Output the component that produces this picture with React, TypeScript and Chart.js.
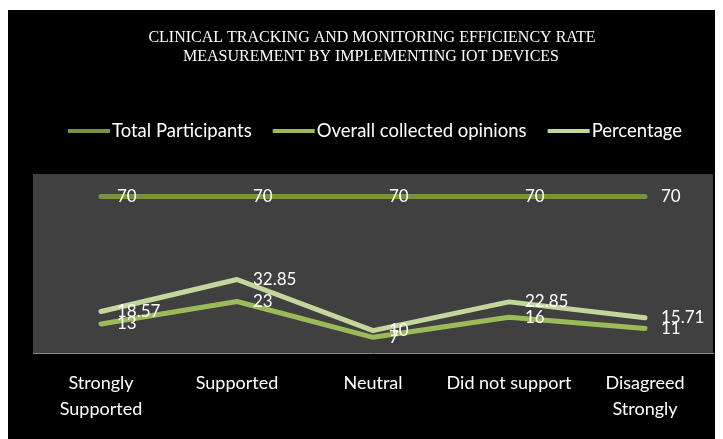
import React, { useEffect, useRef } from "react";
import { Chart, registerables } from "chart.js";

Chart.register(...registerables);

const titleLines = [
  "CLINICAL TRACKING AND MONITORING EFFICIENCY RATE",
  "MEASUREMENT BY IMPLEMENTING IOT DEVICES",
];
const categories: (string | string[])[] = [
  ["Strongly", "Supported"],
  "Supported",
  "Neutral",
  "Did not support",
  ["Disagreed", "Strongly"],
];
const seriesNames = ["Total Participants", "Overall collected opinions", "Percentage"];
const totalParticipants = [70, 70, 70, 70, 70];
const overallOpinions = [13, 23, 7, 16, 11];
const percentage = [18.57, 32.85, 10, 22.85, 15.71];
const seriesColors = ["#77933C", "#9BBB59", "#C3D69B"];

const SANS = "Lato, 'Open Sans', sans-serif";

const bgPlugin = {
  id: "bg",
  beforeDraw(chart: any) {
    const { ctx, width, height, chartArea } = chart;
    ctx.save();
    ctx.fillStyle = "#000000";
    ctx.fillRect(0, 0, width, height);
    ctx.fillStyle = "#404040";
    ctx.fillRect(chartArea.left, chartArea.top, chartArea.right - chartArea.left, chartArea.bottom - chartArea.top);
    ctx.restore();
  },
};

const headerPlugin = {
  id: "header",
  afterDraw(chart: any) {
    const { ctx } = chart;
    ctx.save();
    // title
    ctx.fillStyle = "#ffffff";
    ctx.font = "16px 'Liberation Serif', serif";
    ctx.textAlign = "center";
    ctx.textBaseline = "middle";
    ctx.fillText(titleLines[0], 364, 28);
    ctx.fillText(titleLines[1], 363, 47);
    // legend
    ctx.font = `18.5px ${SANS}`;
    ctx.textAlign = "left";
    let x = 60;
    const y = 121;
    seriesNames.forEach((name, i) => {
      ctx.strokeStyle = seriesColors[i];
      ctx.lineWidth = 4;
      ctx.beginPath();
      ctx.moveTo(x, y);
      ctx.lineTo(x + 42, y);
      ctx.stroke();
      x += 44;
      ctx.fillStyle = "#ffffff";
      ctx.fillText(name, x, y);
      x += ctx.measureText(name).width + 21;
    });
    ctx.restore();
  },
};

const labelPlugin = {
  id: "pointLabels",
  afterDatasetsDraw(chart: any) {
    const { ctx } = chart;
    ctx.save();
    ctx.fillStyle = "#ffffff";
    ctx.font = `17px ${SANS}`;
    ctx.textAlign = "left";
    ctx.textBaseline = "middle";
    chart.data.datasets.forEach((ds: any, i: number) => {
      const meta = chart.getDatasetMeta(i);
      meta.data.forEach((pt: any, j: number) => {
        ctx.fillText(String(ds.data[j]), pt.x + 16, pt.y);
      });
    });
    ctx.restore();
  },
};

export default function App() {
  const ref = useRef<HTMLCanvasElement | null>(null);
  useEffect(() => {
    if (!ref.current) return;
    const data = [totalParticipants, overallOpinions, percentage];
    const chart = new Chart(ref.current, {
      type: "line",
      data: {
        labels: categories,
        datasets: seriesNames.map((name, i) => ({
          label: name,
          data: data[i],
          borderColor: seriesColors[i],
          backgroundColor: seriesColors[i],
          borderWidth: 5,
          pointRadius: 0,
          borderCapStyle: "round" as const,
          borderJoinStyle: "round" as const,
          tension: 0,
        })),
      },
      options: {
        animation: false,
        responsive: false,
        devicePixelRatio: 1,
        layout: { padding: { top: 164, left: 25, right: 10, bottom: 0 } },
        plugins: {
          legend: { display: false },
          title: { display: false },
          tooltip: { enabled: false },
        },
        scales: {
          x: {
            offset: true,
            grid: { display: false, drawTicks: false },
            border: { display: true, color: "#8a8a8a", width: 1 },
            ticks: {
              color: "#ffffff",
              font: { family: SANS, size: 18, lineHeight: 1.4 },
              padding: 18,
              maxRotation: 0,
              autoSkip: false,
            },
            afterFit(axis: any) {
              axis.height = 86;
            },
          },
          y: {
            display: false,
            min: 0,
            max: 80,
          },
        },
      },
      plugins: [bgPlugin, headerPlugin, labelPlugin],
    });
    return () => chart.destroy();
  }, []);
  return (
    <div style={{ paddingTop: 2 }}>
      <canvas ref={ref} width={715} height={429} style={{ display: "block", width: 715, height: 429 }} />
    </div>
  );
}
